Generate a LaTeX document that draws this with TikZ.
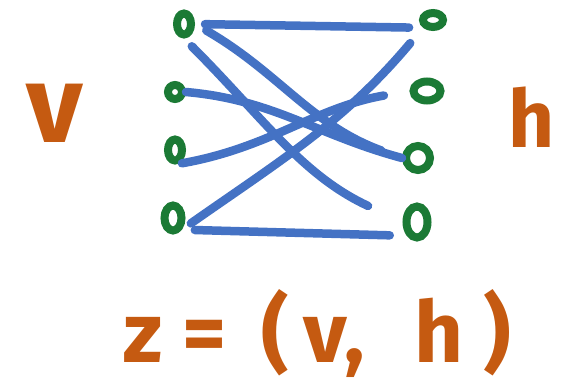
\documentclass[tikz,border=0pt]{standalone}
\usepackage{fontspec}
\setmainfont{Fira Sans}
\usetikzlibrary{shapes.geometric}
\definecolor{pen}{HTML}{4472C4}
\definecolor{dot}{HTML}{1B7A35}
\definecolor{ink}{HTML}{C55A11}
\tikzset{
vis/.style={ellipse,draw=dot,line width=8pt,minimum width=14pt,minimum height=21pt,inner sep=0pt},
hid/.style={vis,minimum width=22pt,minimum height=22pt},
edge/.style={draw=pen,line width=8.5pt,line cap=round},
lbl/.style={text=ink,font=\fontsize{80}{80}\selectfont\bfseries}
}
\begin{document}
\begin{tikzpicture}[x=1pt,y=-1pt]
\useasboundingbox (0,0) rectangle (580,384);
\path
(184,24) node[vis] (v1) {}
(175,92) node[vis,minimum height=14pt] (v2) {}
(175,150) node[vis] (v3) {}
(173,218) node[vis,minimum width=17pt,minimum height=25pt] (v4) {}
(433,20) node[hid,minimum width=20pt,minimum height=14pt] (h1) {}
(427,91) node[hid,minimum width=27pt,minimum height=19pt] (h2) {}
(418,158) node[hid,minimum width=24pt,minimum height=24pt] (h3) {}
(417,222) node[hid,minimum width=21pt,minimum height=31pt] (h4) {}
(55,113) node[lbl,font=\fontsize{110}{110}\selectfont\bfseries] (vlab) {v}
(532,117) node[lbl] (hlab) {h}
(123,362) node[lbl,anchor=base west,inner sep=0pt,font=\fontsize{85}{85}\selectfont\bfseries] (zlab)
  {z\hspace{20pt}=\hspace{35pt}(\hspace{15pt}v,\hspace{50pt}h\hspace{20pt})}
;
\draw[edge,shorten <=10pt,shorten >=14pt] (v1.east) -- (h1.south west);
\draw[edge,shorten <=13pt,shorten >=22pt] (v1.east) to[out=-30,in=160] (h3.west);
\draw[edge] (v2.east) to[out=-5,in=165] (h3.west);
\draw[edge,shorten <=11pt,shorten >=38pt] (v1.south) to[out=-45,in=155] (h4.west);
\draw[edge,shorten <=11pt,shorten >=20pt] (v4.south east) to[out=35,in=-130] (h1.south west);
\draw[edge,shorten <=7pt,shorten >=26pt] (v3.south) to[out=10,in=-170] (h2.west);
\draw[edge,shorten <=13pt,shorten >=17pt] (v4.south east) -- (h4.south west);
\end{tikzpicture}
\end{document}
